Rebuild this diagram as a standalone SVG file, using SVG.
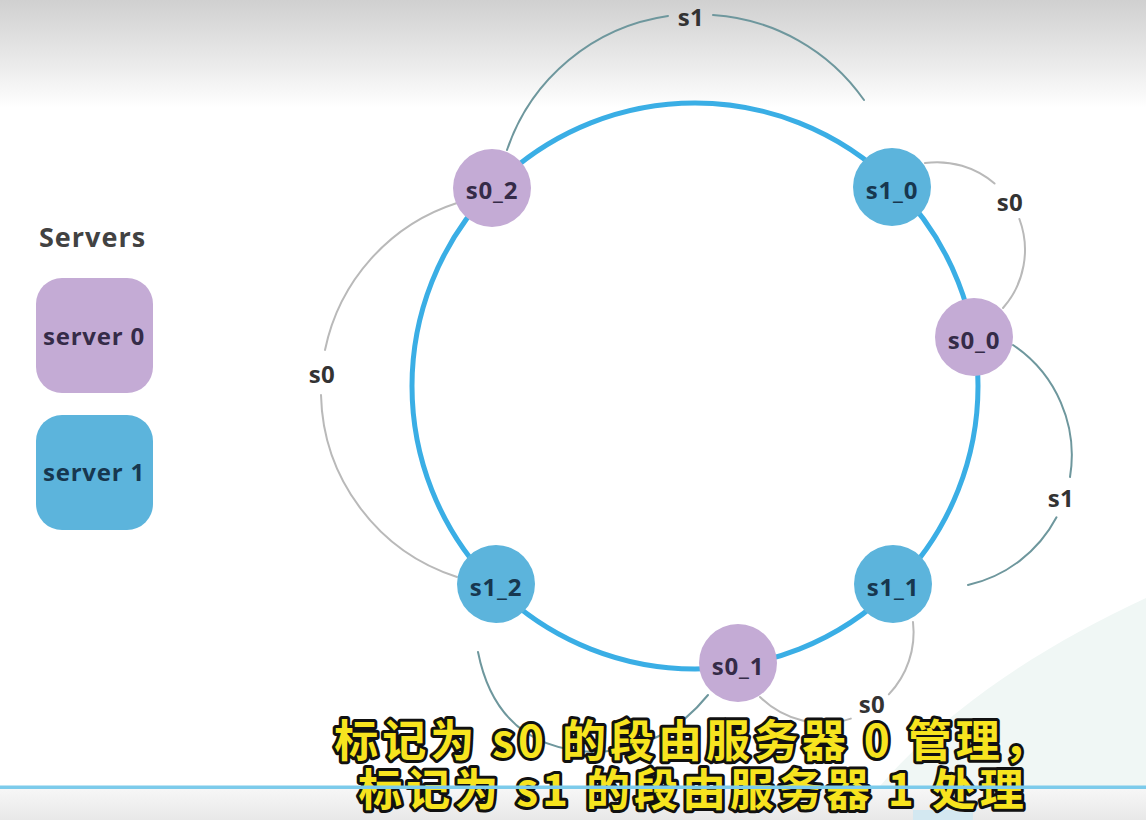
<svg xmlns="http://www.w3.org/2000/svg" width="1146" height="820" viewBox="0 0 1146 820">
<defs>
<linearGradient id="topFade" x1="0" y1="0" x2="0" y2="1">
<stop offset="0" stop-color="#d0d0d0"/>
<stop offset="0.6" stop-color="#ebebeb"/>
<stop offset="1" stop-color="#ffffff"/>
</linearGradient>
<linearGradient id="bottomBand" x1="0" y1="0" x2="0" y2="1">
<stop offset="0" stop-color="#f7f7f7"/>
<stop offset="1" stop-color="#e8e8e8"/>
</linearGradient>
<style>
.ring{fill:none;stroke:#3aaee5;stroke-width:5}
.arc{fill:none;stroke-width:2;stroke-linecap:round}
.g{stroke:#b9b9b9}
.t{stroke:#6e979d}
.lbl{font-family:"Open Sans","Noto Sans",sans-serif;font-weight:700;font-size:24px;fill:#333333;text-anchor:middle;letter-spacing:0.5px}
.p{fill:#c4abd5}
.b{fill:#5cb4dc}
.nt{font-family:"Open Sans","Noto Sans",sans-serif;font-weight:700;font-size:24px;text-anchor:middle;letter-spacing:0.8px}
.np{fill:#352b48}
.nb{fill:#17374f}
.title{font-family:"Open Sans","Noto Sans",sans-serif;font-weight:700;font-size:27px;fill:#424242;letter-spacing:1px}
.sub{font-family:"Noto Sans CJK SC","Noto Sans CJK JP",sans-serif;font-weight:700;font-size:44px;fill:#f7e41f;stroke:#111111;stroke-width:6;stroke-linejoin:round;paint-order:stroke fill;text-anchor:middle;letter-spacing:4px}
</style>
</defs>

<rect x="0" y="0" width="1146" height="820" fill="#ffffff"/>
<rect x="0" y="0" width="1146" height="108" fill="url(#topFade)"/>
<path d="M880,786 C950,705 1045,645 1146,598 L1146,786 Z" fill="#f0f7f5"/>
<rect x="0" y="788" width="1146" height="32" fill="url(#bottomBand)"/>
<rect x="913" y="810" width="60" height="10" fill="#d3e8f1"/>

<circle class="ring" cx="695" cy="386" r="283"/>

<g id="connectors">
<path class="arc t" d="M507,150 A200,200 0 0,1 668,16"/>
<path class="arc t" d="M713,15 A200,200 0 0,1 864,100"/>
<path class="arc g" d="M925,163 A88,88 0 0,1 994.6,183.5"/>
<path class="arc g" d="M1019.4,219 A88,88 0 0,1 1003,308"/>
<path class="arc t" d="M1013,345 A133,133 0 0,1 1070,477"/>
<path class="arc t" d="M1056.5,517.3 A133,133 0 0,1 968,585"/>
<path class="arc g" d="M913,622 A90,90 0 0,1 888.8,694.4"/>
<path class="arc g" d="M850.8,718.6 A90,90 0 0,1 760,697"/>
<path class="arc t" d="M478,652 Q498,752 600,752 Q665,748 708,695"/>
<path class="arc g" d="M457,203 A196,196 0 0,0 325,350"/>
<path class="arc g" d="M321,395 A196,196 0 0,0 457,577"/>
<text class="lbl" x="691" y="26">s1</text>
<text class="lbl" x="1010" y="211">s0</text>
<text class="lbl" x="1061" y="507">s1</text>
<text class="lbl" x="872" y="713">s0</text>
<text class="lbl" x="322" y="383">s0</text>
</g>

<g id="s0_2"><circle class="p" cx="492" cy="188" r="39"/><text class="nt np" x="492" y="199">s0_2</text></g>
<g id="s1_0"><circle class="b" cx="892" cy="187" r="39"/><text class="nt nb" x="892" y="199">s1_0</text></g>
<g id="s0_0"><circle class="p" cx="974" cy="337" r="39"/><text class="nt np" x="974" y="349">s0_0</text></g>
<g id="s1_1"><circle class="b" cx="893" cy="584" r="39"/><text class="nt nb" x="893" y="596">s1_1</text></g>
<g id="s0_1"><circle class="p" cx="738" cy="663" r="39"/><text class="nt np" x="738" y="675">s0_1</text></g>
<g id="s1_2"><circle class="b" cx="496" cy="584" r="39"/><text class="nt nb" x="496" y="596">s1_2</text></g>

<g id="legend">
<text class="title" x="39" y="247">Servers</text>
<g id="server0"><rect class="p" x="36" y="278" width="117" height="115" rx="26"/><text class="nt np" x="94" y="345">server 0</text></g>
<g id="server1"><rect class="b" x="36" y="415" width="117" height="115" rx="26"/><text class="nt nb" x="94" y="481">server 1</text></g>
</g>

<g id="subtitle">
<text class="sub" x="693" y="757">标记为 s0 的段由服务器 0 管理，</text>
<text class="sub" x="693" y="806">标记为 s1 的段由服务器 1 处理</text>
</g>
<rect x="0" y="785.5" width="1146" height="3.5" fill="#7ccbeb"/>
</svg>
